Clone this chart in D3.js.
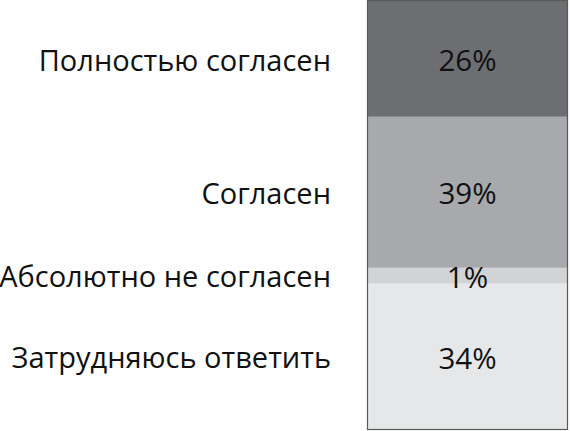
<!DOCTYPE html>
<html>
<head>
<meta charset="utf-8">
<script src="https://cdn.jsdelivr.net/npm/d3@7"></script>
<style>
  html, body { margin: 0; padding: 0; background: #fff; }
  svg { display: block; }
</style>
</head>
<body>
<svg id="chart" width="570" height="431"></svg>
<script>
'use strict';

// answers, top to bottom
var categories = ['Полностью согласен', 'Согласен', 'Абсолютно не согласен', 'Затрудняюсь ответить'];
// printed values
var values = [26, 39, 1, 34];
// share of the bar each block takes in the picture (not exactly proportional)
var barShare = [27.0, 35.2, 3.7, 34.1];
var colors = ['#6d6e71', '#a7a9ac', '#d1d3d4', '#e6e7e8'];

var width = 570, height = 431;
var margin = { top: 1, right: 2, bottom: 1, left: 367 };
var svg = d3.select('#chart');

var font = '"Open Sans", "Noto Sans", sans-serif';

// stacked extents
var acc = 0;
var rows = categories.map(function (c, i) {
  var r = { name: c, value: values[i], y0: acc, y1: acc + barShare[i], color: colors[i] };
  acc += barShare[i];
  return r;
});

var y = d3.scaleLinear()
  .domain([0, 100])
  .range([margin.top, height - margin.bottom]);

var x0 = margin.left, x1 = width - margin.right;

var g = svg.append('g');

g.selectAll('rect.seg')
  .data(rows)
  .enter().append('rect')
  .attr('class', 'seg')
  .attr('x', x0)
  .attr('width', x1 - x0)
  .attr('y', function (d) { return y(d.y0); })
  .attr('height', function (d) { return y(d.y1) - y(d.y0); })
  .attr('fill', function (d) { return d.color; });

// outline of the whole bar
g.append('rect')
  .attr('x', x0 + 0.5)
  .attr('y', y(0) - 0.5)
  .attr('width', x1 - x0 - 1)
  .attr('height', y(100) - y(0))
  .attr('fill', 'none')
  .attr('stroke', '#58595b')
  .attr('stroke-width', 1.2);

// percentages in the middle of each block
g.selectAll('text.val')
  .data(rows)
  .enter().append('text')
  .attr('class', 'val')
  .attr('x', (x0 + x1) / 2)
  .attr('y', function (d) { return (y(d.y0) + y(d.y1)) / 2; })
  .attr('dy', '0.4em')
  .attr('text-anchor', 'middle')
  .style('font-family', font)
  .style('font-size', '29.5px')
  .style('fill', '#111')
  .text(function (d) { return d.value + '%'; });

// category names on the left
g.selectAll('text.cat')
  .data(rows)
  .enter().append('text')
  .attr('class', 'cat')
  .attr('x', 331)
  .attr('y', function (d) { return (y(d.y0) + y(d.y1)) / 2; })
  .attr('dy', '0.4em')
  .attr('text-anchor', 'end')
  .style('font-family', font)
  .style('font-size', '29px')
  .style('fill', '#111')
  .text(function (d) { return d.name; });
</script>
</body>
</html>
